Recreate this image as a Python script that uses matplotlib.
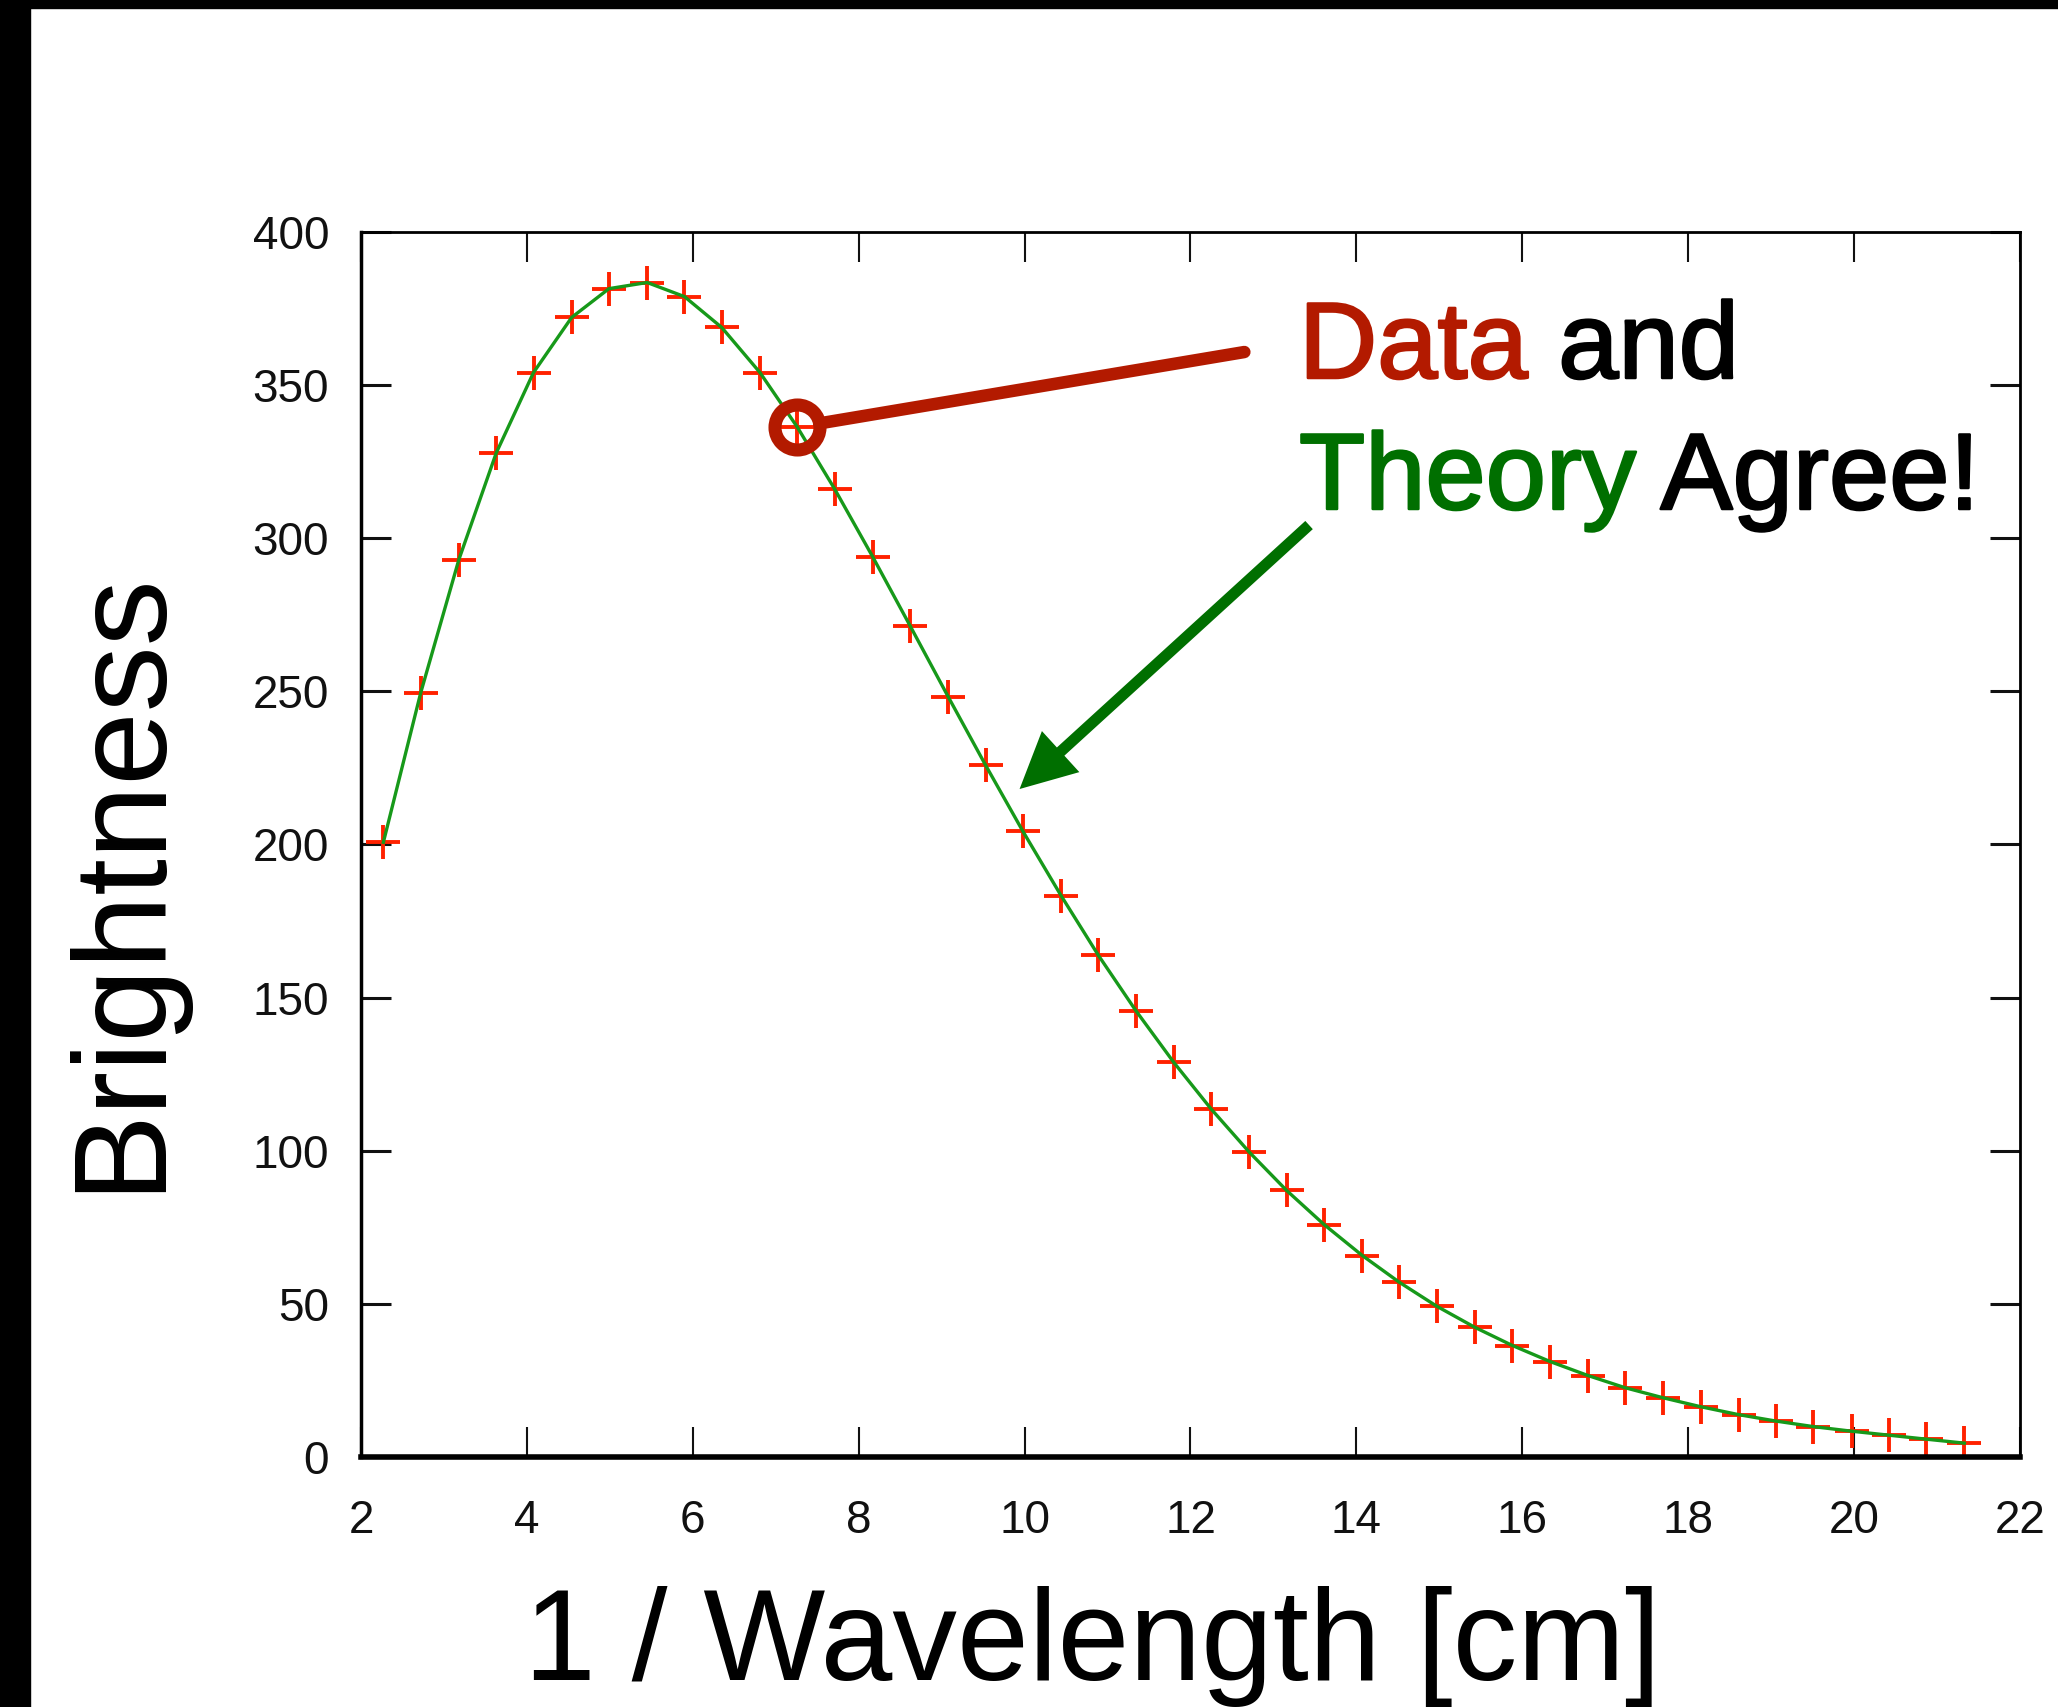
import matplotlib
matplotlib.use("Agg")
import matplotlib.pyplot as plt
import matplotlib.patheffects as pe
from matplotlib.patches import Rectangle

# spectrum points (1/wavelength in cm^-1, brightness)
wavenumber = [2.27, 2.72, 3.18, 3.63, 4.08, 4.54, 4.99, 5.45, 5.90, 6.35,
              6.81, 7.26, 7.71, 8.17, 8.62, 9.08, 9.53, 9.98, 10.44, 10.89,
              11.34, 11.80, 12.25, 12.71, 13.16, 13.61, 14.07, 14.52, 14.97, 15.43,
              15.88, 16.34, 16.79, 17.24, 17.70, 18.15, 18.61, 19.06, 19.51, 19.97,
              20.42, 20.87, 21.33]
brightness = [200.72, 249.51, 293.02, 327.77, 354.08, 372.08, 381.49, 383.48, 378.90, 368.83,
              354.06, 336.28, 316.08, 293.92, 271.43, 248.24, 225.94, 204.33, 183.26, 163.83,
              145.75, 128.84, 113.57, 99.45, 87.04, 75.88, 65.77, 57.01, 49.22, 42.27,
              36.35, 31.06, 26.58, 22.64, 19.26, 16.39, 13.81, 11.72, 9.92, 8.36,
              7.09, 5.80, 4.52]
# theory curve (passes through the data)
theory = [200.7, 249.5, 293.0, 327.8, 354.1, 372.1, 381.5, 383.5, 378.9, 368.8,
          354.1, 336.3, 316.1, 293.9, 271.4, 248.2, 225.9, 204.3, 183.3, 163.8,
          145.8, 128.8, 113.6, 99.5, 87.0, 75.9, 65.8, 57.0, 49.2, 42.3,
          36.4, 31.1, 26.6, 22.6, 19.3, 16.4, 13.8, 11.7, 9.9, 8.4,
          7.1, 5.8, 4.5]

xticks = [2, 4, 6, 8, 10, 12, 14, 16, 18, 20, 22]
yticks = [0, 50, 100, 150, 200, 250, 300, 350, 400]

RED = "#b31a00"
GREEN = "#006f00"
highlight = 11  # the circled point

plt.rcParams["font.family"] = ["Liberation Sans", "DejaVu Sans"]

fig = plt.figure(figsize=(20.58, 17.07), dpi=100)
ax = fig.add_axes([0.1754, 0.1465, 0.8061, 0.7176])

ax.plot(wavenumber, brightness, ls="none", marker="+", ms=24, mew=2.8,
        color="#ff2200", zorder=2)
ax.plot(wavenumber, theory, color="#17991a", lw=2.4, zorder=3)

ax.set_xlim(2, 22)
ax.set_ylim(0, 400)
ax.set_xticks(xticks)
ax.set_yticks(yticks)
ax.tick_params(axis="both", direction="in", length=21.6, labelsize=33,
               top=True, right=True, colors="#111111")
ax.tick_params(axis="x", pad=30, width=1.5)
ax.tick_params(axis="y", pad=23, width=2.2)
ax.spines["bottom"].set_linewidth(4)
ax.spines["left"].set_linewidth(2.5)
ax.spines["top"].set_linewidth(2)
ax.spines["right"].set_linewidth(2)

# red pointer to one data point
ax.annotate("", xy=(wavenumber[highlight], brightness[highlight]), xytext=(12.65, 360.8),
            arrowprops=dict(arrowstyle="-", color=RED, lw=9, shrinkA=0, shrinkB=16),
            zorder=5, annotation_clip=False)
ax.plot([wavenumber[highlight]], [brightness[highlight]], marker="o", ms=32.4,
        mfc="none", mec=RED, mew=9.4, zorder=6)

# green arrow to the theory curve
ax.annotate("", xy=(9.94, 218.1), xytext=(13.43, 304.3),
            arrowprops=dict(arrowstyle="simple,head_length=1.0,head_width=1.0,tail_width=0.2",
                            mutation_scale=40, color=GREEN, lw=0, shrinkA=0, shrinkB=0),
            zorder=5, annotation_clip=False)

thick = lambda c: [pe.withStroke(linewidth=1.8, foreground=c)]
t1 = fig.text(1299 / 2058, 1 - 378 / 1707, "Data", color=RED, fontsize=78,
              ha="left", va="baseline", path_effects=thick(RED))
ax.annotate(" and", xy=(1, 0), xycoords=t1, ha="left", va="bottom", fontsize=78,
            color="black", path_effects=thick("black"), annotation_clip=False)
t2 = fig.text(1299 / 2058, 1 - 509 / 1707, "Theory", color=GREEN, fontsize=78,
              ha="left", va="baseline", path_effects=thick(GREEN))
ax.annotate(" Agree!", xy=(1, 0), xycoords=t2, ha="left", va="bottom", fontsize=78,
            color="black", path_effects=thick("black"), annotation_clip=False)

# axis titles
fig.text(1092.5 / 2058, 1 - 1680 / 1707, "1 / Wavelength [cm]", fontsize=93,
         ha="center", va="baseline")
fig.text(156 / 2058, 1 - 880 / 1707, "Brightness", fontsize=95, rotation=90,
         rotation_mode="anchor", ha="center", va="baseline")

# black frame on the left and top edges
fig.patches.append(Rectangle((0, 0), 30 / 2058, 1, transform=fig.transFigure,
                             color="black", zorder=10))
fig.patches.append(Rectangle((0, 1 - 8 / 1707), 1, 8 / 1707, transform=fig.transFigure,
                             color="black", zorder=10))

fig.savefig("out.png", dpi=100)
